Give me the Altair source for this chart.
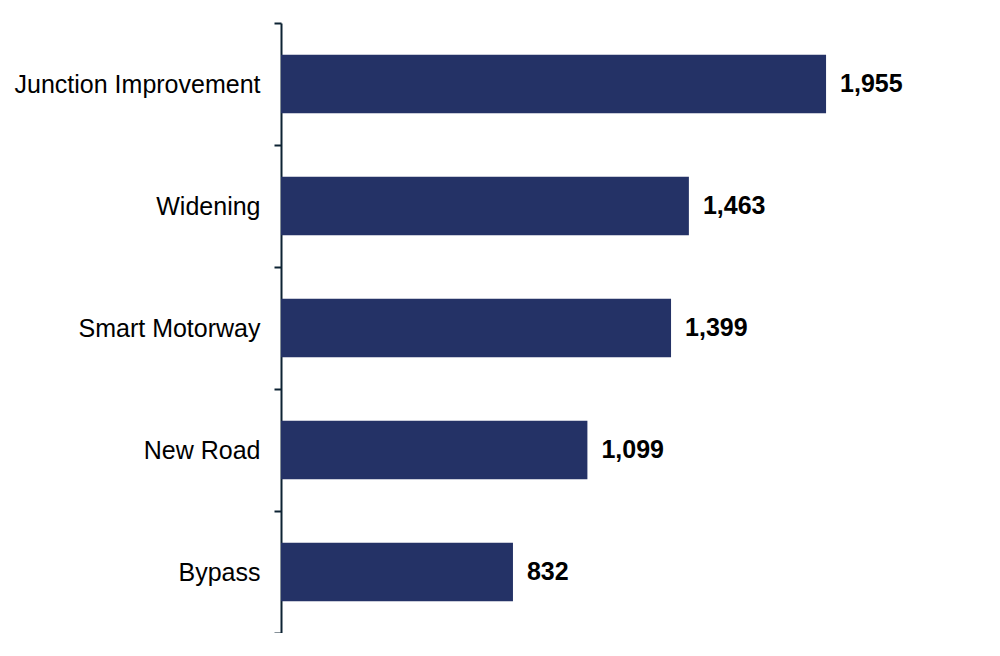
import altair as alt
import pandas as pd

categories = ["Junction Improvement", "Widening", "Smart Motorway", "New Road", "Bypass"]
values = [1955, 1463, 1399, 1099, 832]
labels = ["1,955", "1,463", "1,399", "1,099", "832"]

df = pd.DataFrame({"category": categories, "value": values, "label": labels})

FONT = "Liberation Sans"

y_enc = alt.Y(
    "category:N",
    sort=categories,
    title=None,
    scale=alt.Scale(paddingInner=0, paddingOuter=0),
    axis=alt.Axis(
        tickBand="extent",
        grid=False,
        domainColor="#0c2233",
        domainWidth=2,
        tickColor="#0c2233",
        tickWidth=2,
        tickSize=7,
        labelFont=FONT,
        labelFontSize=25,
        labelColor="#000000",
        labelPadding=14,
        labelLimit=400,
    ),
)
x_enc = alt.X(
    "value:Q",
    title=None,
    scale=alt.Scale(domain=[0, 2500], nice=False),
    axis=None,
)

bars = alt.Chart(df).mark_bar(color="#243266", height=alt.RelativeBandSize(0.48)).encode(
    x=x_enc, y=y_enc
)
text = alt.Chart(df).mark_text(
    align="left", baseline="middle", dx=14, font=FONT, fontSize=25,
    fontWeight="bold", color="#000000"
).encode(x=x_enc, y=y_enc, text="label:N")

chart = (
    alt.layer(bars, text)
    .properties(
        width=697,
        height=610,
        background="white",
        autosize=alt.AutoSizeParams(type="none"),
        padding={"left": 273, "top": 15, "right": 0, "bottom": 0},
    )
    .configure_view(strokeWidth=0)
)

chart.save("out.html", embed_options={"renderer": "svg", "actions": False})
